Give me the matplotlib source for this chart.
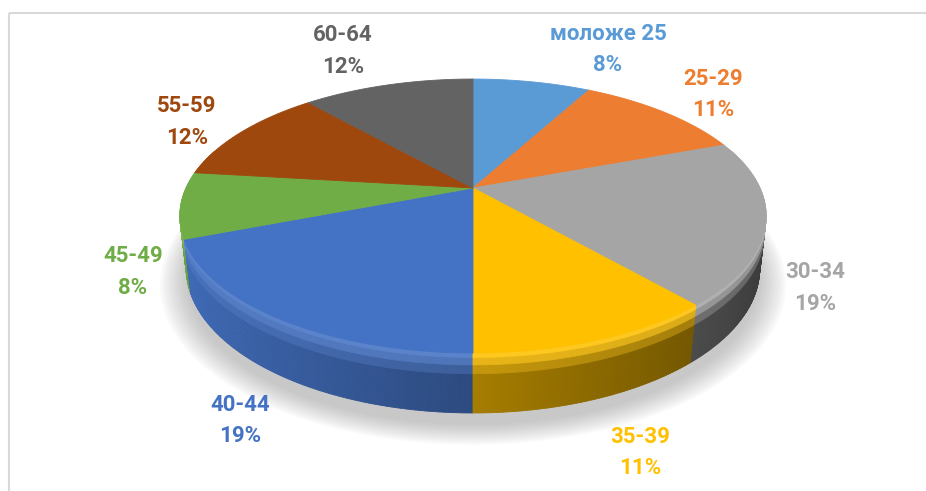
import numpy as np
import matplotlib
matplotlib.use("Agg")
import matplotlib.pyplot as plt
from matplotlib.collections import PolyCollection
from matplotlib.colors import to_rgb

# ---- data ----
categories = ["моложе 25", "25-29", "30-34", "35-39", "40-44", "45-49", "55-59", "60-64"]
values = [7.9, 11.4, 19.3, 11.4, 19.1, 7.8, 11.6, 11.5]
colors = ["#5B9BD5", "#ED7D31", "#A5A5A5", "#FFC000", "#4472C4", "#70AD47", "#9E480E", "#636363"]

# ---- layout (label anchor positions, pixels) ----
label_pos = [(608, 33.5), (713, 78.5), (815, 272), (640, 437),
             (240, 405), (133, 256), (187, 106), (343, 35)]
line_gap = 31.5

W, H = 926, 491
fig = plt.figure(figsize=(W / 100, H / 100), dpi=100)
ax = fig.add_axes([0, 0, 1, 1])
ax.set_xlim(0, W)
ax.set_ylim(H, 0)
ax.axis("off")

# perspective projection parameters
cx, cy = 473.0, 188.0
s_e, c_e = 0.4574, 0.8893
k_d, f_l = 4.349, 1248.0
thick = 0.206


def project(x, y, z):
    depth = k_d + y * c_e - z * s_e
    v = y * s_e + z * c_e
    return cx + f_l * x / depth, cy - f_l * v / depth


def circ(theta_deg, r=1.0, z=0.0):
    t = np.radians(theta_deg)
    return project(r * np.sin(t), r * np.cos(t), z)


total = float(sum(values))
bounds = np.concatenate([[0], np.cumsum(values) / total * 360.0])

# ---- soft shadow ----
th_all = np.linspace(0, 360, 361)
for i, r in enumerate(np.linspace(1.09, 1.0, 14)):
    X, Y = circ(th_all, r, -thick - 0.02)
    ax.fill(X, Y + 6, color="#7f7f7f", alpha=0.035, lw=0, zorder=1)


# ---- side walls (with soft bevel highlight near the top rim) ----
polys, fcs, depths = [], [], []
zlev = [0.0, -0.015, -0.04, -0.07, -thick]
for i in range(len(values)):
    a0, a1 = bounds[i], bounds[i + 1]
    n = max(2, int(np.ceil((a1 - a0) / 0.5)))
    ts = np.linspace(a0, a1, n + 1)
    base = np.array(to_rgb(colors[i]))
    for t0, t1 in zip(ts[:-1], ts[1:]):
        tm = 0.5 * (t0 + t1)
        if np.cos(np.radians(tm)) > 0.3:
            continue
        fac = 0.65 - 0.3 * np.sin(np.radians(tm))
        body = np.clip(base * fac, 0, 1)
        light = np.clip(base + (1 - base) * 0.12, 0, 1)
        lit = body + (light - body) * 0.75
        mid = body + (light - body) * 0.35
        band_cols = [tuple(light), tuple(lit), tuple(mid), tuple(body)]
        for (za, zb), bc in zip(zip(zlev[:-1], zlev[1:]), band_cols):
            p0 = circ(t0, z=za); p1 = circ(t1, z=za)
            q1 = circ(t1, z=zb); q0 = circ(t0, z=zb)
            polys.append([p0, p1, q1, q0])
            fcs.append(bc)
            depths.append(np.cos(np.radians(tm)))
order = np.argsort(depths, kind="stable")[::-1]
pc = PolyCollection([polys[j] for j in order], facecolors=[fcs[j] for j in order],
                    edgecolors=[fcs[j] for j in order], linewidths=0.6, zorder=2)
ax.add_collection(pc)

# ---- top surface ----
tops, tcs = [], []
for i in range(len(values)):
    ts = np.linspace(bounds[i], bounds[i + 1], 120)
    X, Y = circ(ts)
    pts = [(cx, cy)] + list(zip(X, Y))
    tops.append(pts)
    tcs.append(colors[i])
ax.add_collection(PolyCollection(tops, facecolors=tcs, edgecolors=tcs, linewidths=0.6, zorder=4))

# ---- labels ----
fam = ["Roboto", "DejaVu Sans"]
for name, v, col, (lx, ly) in zip(categories, values, colors, label_pos):
    pct = f"{int(np.floor(v / total * 100 + 0.5))}%"
    ax.text(lx, ly, name, color=col, fontsize=16, fontweight="bold", family=fam,
            ha="center", va="center", zorder=6)
    ax.text(lx, ly + line_gap, pct, color=col, fontsize=16, fontweight="bold", family=fam,
            ha="center", va="center", zorder=6)

# ---- frame ----
ax.plot([8.5, W], [12.5, 12.5], color="#d9d9d9", lw=1.5, zorder=0, solid_capstyle="butt")
ax.plot([8.5, 8.5], [12.5, H], color="#d9d9d9", lw=1.5, zorder=0, solid_capstyle="butt")

fig.savefig("out.png", dpi=100)
